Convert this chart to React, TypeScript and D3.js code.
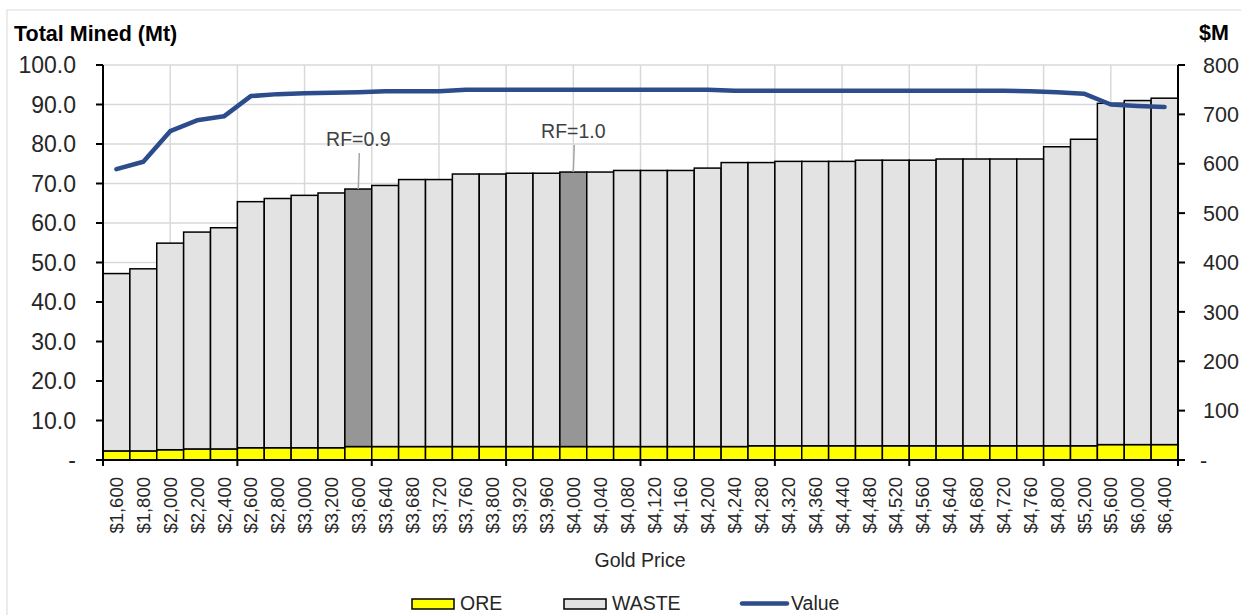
import React from "react";
import * as d3 from "d3";

const goldPrices = [
  "$1,600", "$1,800", "$2,000", "$2,200", "$2,400", "$2,600", "$2,800", "$3,000", "$3,200", "$3,600",
  "$3,640", "$3,680", "$3,720", "$3,760", "$3,800", "$3,920", "$3,960", "$4,000", "$4,040", "$4,080",
  "$4,120", "$4,160", "$4,200", "$4,240", "$4,280", "$4,320", "$4,360", "$4,440", "$4,480", "$4,520",
  "$4,560", "$4,640", "$4,680", "$4,720", "$4,760", "$4,800", "$5,200", "$5,600", "$6,000", "$6,400",
];

const oreMt = [
  2.3, 2.3, 2.6, 2.8, 2.8, 3.1, 3.1, 3.1, 3.1, 3.4,
  3.4, 3.4, 3.4, 3.4, 3.4, 3.4, 3.4, 3.4, 3.4, 3.4,
  3.4, 3.4, 3.4, 3.4, 3.6, 3.6, 3.6, 3.6, 3.6, 3.6,
  3.6, 3.6, 3.6, 3.6, 3.6, 3.6, 3.6, 3.9, 3.9, 3.9,
];

const wasteMt = [
  44.9, 46.1, 52.3, 54.9, 56.0, 62.3, 63.1, 63.9, 64.5, 65.2,
  66.1, 67.6, 67.6, 69.0, 69.0, 69.2, 69.2, 69.5, 69.5, 69.9,
  69.9, 69.9, 70.5, 71.9, 71.7, 72.0, 72.0, 72.0, 72.3, 72.3,
  72.3, 72.6, 72.6, 72.6, 72.6, 75.7, 77.6, 86.4, 87.1, 87.7,
];

const valueM = [
  589, 604, 666, 688, 696, 737, 741, 743, 744, 745,
  747, 747, 747, 750, 750, 750, 750, 750, 750, 750,
  750, 750, 750, 748, 748, 748, 748, 748, 748, 748,
  748, 748, 748, 748, 747, 745, 742, 720, 717, 715,
];

const highlights = [
  { index: 9, label: "RF=0.9" },
  { index: 17, label: "RF=1.0" },
];

const leftTicks = [0, 10, 20, 30, 40, 50, 60, 70, 80, 90, 100];
const rightTicks = [0, 100, 200, 300, 400, 500, 600, 700, 800];

const W = 1241;
const H = 615;
const PL = 103;
const PR = 1178;
const PT = 65;
const PB = 460;

const FONT = "'Liberation Sans', Arial, sans-serif";
const WASTE_FILL = "#e3e3e3";
const HIGHLIGHT_FILL = "#969696";
const ORE_FILL = "#ffff00";
const LINE_COLOR = "#2c4c8b";
const GRID = "#d9d9d9";
const TXT = "#262626";

export default function App() {
  const idx = goldPrices.map((_, i) => i);
  const x = d3.scaleBand<number>().domain(idx).range([PL, PR]).padding(0);
  const yL = d3.scaleLinear().domain([0, 100]).range([PB, PT]);
  const yR = d3.scaleLinear().domain([0, 800]).range([PB, PT]);
  const gridX = d3.scaleLinear().domain([0, 16]).range([PL, PR]);

  const rows = idx.map((i) => ({ ore: oreMt[i], waste: wasteMt[i] }));
  const stacked = d3.stack<any>().keys(["ore", "waste"])(rows);

  const line = d3
    .line<number>()
    .x((_, i) => (x(i) as number) + x.bandwidth() / 2)
    .y((v) => yR(v));

  const xTickIdx = [0, 5, 10, 15, 20, 25, 30, 35, 40];
  const xTickPos = (i: number) => (i >= goldPrices.length ? PR : (x(i) as number));

  return (
    <svg
      width={W}
      height={H}
      style={{ position: "absolute", left: 0, top: 0, background: "#fff" }}
      fontFamily={FONT}
    >
      <rect x={7} y={10} width={W} height={H + 20} fill="#fff" stroke={GRID} strokeWidth={1} />

      {/* gridlines */}
      {leftTicks.filter((t) => t > 0).map((t) => (
        <line key={"h" + t} x1={PL} x2={PR} y1={yL(t)} y2={yL(t)} stroke={GRID} strokeWidth={1.5} />
      ))}
      {d3.range(1, 16).map((k) => (
        <line key={"v" + k} x1={gridX(k)} x2={gridX(k)} y1={PT} y2={PB} stroke={GRID} strokeWidth={1.5} />
      ))}

      {/* bars */}
      {stacked.map((layer) => (
        <g key={layer.key}>
          {layer.map((d, i) => {
            const isHi = highlights.some((h) => h.index === i);
            const fill = layer.key === "ore" ? ORE_FILL : isHi ? HIGHLIGHT_FILL : WASTE_FILL;
            return (
              <rect
                key={i}
                x={x(i)}
                y={yL(d[1])}
                width={x.bandwidth()}
                height={yL(d[0]) - yL(d[1])}
                fill={fill}
                stroke="#000"
                strokeWidth={1.5}
              />
            );
          })}
        </g>
      ))}

      {/* annotations */}
      {highlights.map((h, k) => {
        const cx = (x(h.index) as number) + x.bandwidth() / 2;
        const top = yL(oreMt[h.index] + wasteMt[h.index]);
        const textY = k === 0 ? 146 : 138;
        return (
          <g key={h.label}>
            <line x1={cx + 1} x2={cx} y1={textY + 7} y2={top} stroke="#a6a6a6" strokeWidth={1.5} />
            <text x={cx} y={textY} textAnchor="middle" fontSize={19.5} fill="#404040">
              {h.label}
            </text>
          </g>
        );
      })}

      {/* value line */}
      <path d={line(valueM) as string} fill="none" stroke={LINE_COLOR} strokeWidth={4.5} strokeLinejoin="round" strokeLinecap="round" />

      {/* axes */}
      <line x1={PL} x2={PL} y1={PT} y2={PB} stroke="#000" strokeWidth={2} />
      <line x1={PR} x2={PR} y1={PT} y2={PB} stroke="#000" strokeWidth={2} />
      <line x1={PL - 7} x2={PR + 7} y1={PB} y2={PB} stroke="#000" strokeWidth={2} />
      {leftTicks.map((t) => (
        <g key={"lt" + t}>
          <line x1={PL - 7} x2={PL} y1={yL(t)} y2={yL(t)} stroke="#000" strokeWidth={2} />
          <text x={76} y={yL(t)} dy="0.36em" textAnchor="end" fontSize={23} fill={TXT}>
            {t === 0 ? "-" : t.toFixed(1)}
          </text>
        </g>
      ))}
      {rightTicks.map((t) => (
        <g key={"rt" + t}>
          <line x1={PR} x2={PR + 7} y1={yR(t)} y2={yR(t)} stroke="#000" strokeWidth={2} />
          <text x={t === 0 ? 1200 : 1203} y={yR(t)} dy="0.36em" textAnchor="start" fontSize={21.5} fill={TXT}>
            {t === 0 ? "-" : String(t)}
          </text>
        </g>
      ))}
      {xTickIdx.map((i) => (
        <line key={"xt" + i} x1={xTickPos(i)} x2={xTickPos(i)} y1={PB} y2={PB + 6} stroke="#000" strokeWidth={2} />
      ))}
      {goldPrices.map((g, i) => {
        const cx = (x(i) as number) + x.bandwidth() / 2;
        return (
          <text
            key={"xl" + i}
            transform={`translate(${cx},${477}) rotate(-90)`}
            dy="0.36em"
            textAnchor="end"
            fontSize={18.5}
            fill={TXT}
          >
            {g}
          </text>
        );
      })}

      {/* titles */}
      <text x={14} y={41} fontSize={21.5} fontWeight="bold" fill="#000">
        Total Mined (Mt)
      </text>
      <text x={1199} y={40} fontSize={21.5} fontWeight="bold" fill="#000">
        $M
      </text>
      <text x={640} y={567} textAnchor="middle" fontSize={19.5} fill={TXT}>
        Gold Price
      </text>

      {/* legend */}
      <rect x={412} y={599} width={42} height={10} fill={ORE_FILL} stroke="#000" strokeWidth={1.5} />
      <text x={460} y={610} fontSize={19.5} fill={TXT}>ORE</text>
      <rect x={564} y={599} width={42} height={10} fill={WASTE_FILL} stroke="#000" strokeWidth={1.5} />
      <text x={612} y={610} fontSize={19.5} fill={TXT}>WASTE</text>
      <line x1={742} x2={787} y1={603.5} y2={603.5} stroke={LINE_COLOR} strokeWidth={4.5} strokeLinecap="round" />
      <text x={791} y={610} fontSize={19.5} fill={TXT}>Value</text>
    </svg>
  );
}
